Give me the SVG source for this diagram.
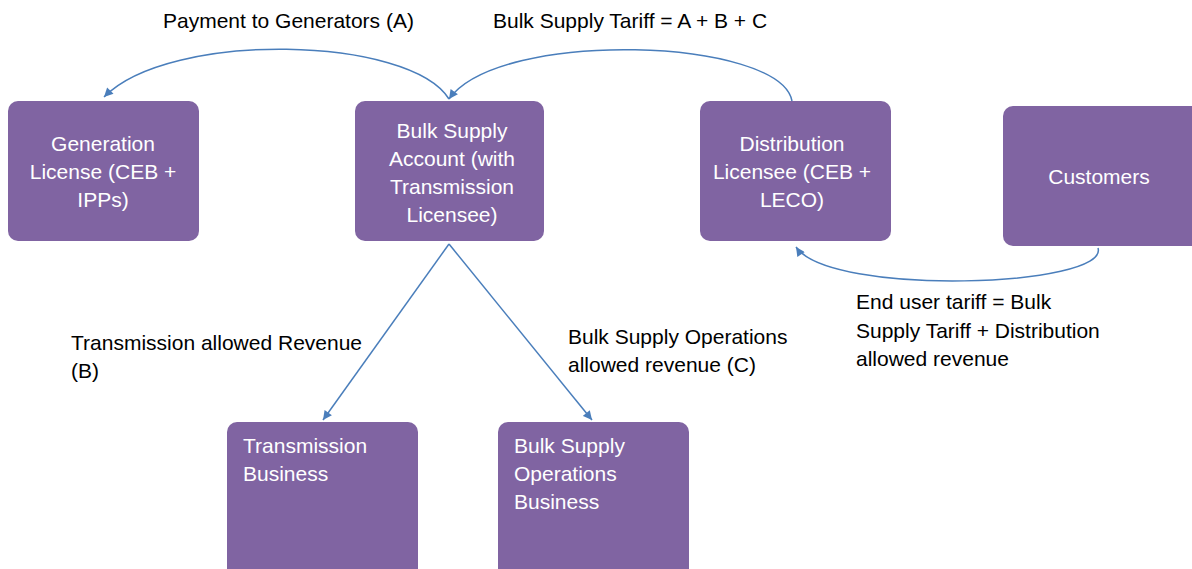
<svg xmlns="http://www.w3.org/2000/svg" width="1192" height="569" viewBox="0 0 1192 569">
<style>
.box{fill:#8064A2;}
.nt{font-family:"Liberation Sans",Arial,sans-serif;font-size:21px;fill:#ffffff;}
.c{text-anchor:middle;}
.lbl{font-family:"Liberation Sans",Arial,sans-serif;font-size:21px;fill:#000000;}
.con{fill:none;stroke:#4A7EBB;stroke-width:1.5;}
</style>
<defs>
<marker id="ah" viewBox="0 0 10 10" refX="10" refY="5" markerWidth="10" markerHeight="9" markerUnits="userSpaceOnUse" orient="auto">
<path d="M0,0 L10,5 L0,10 z" fill="#4A7EBB"/>
</marker>
</defs>
<rect width="1192" height="569" fill="#ffffff"/>
<g id="connectors">
<path class="con" d="M449,99 C410,36 170,30 104,97" marker-end="url(#ah)"/>
<path class="con" d="M792,101 C780,38 500,28 449,99" marker-end="url(#ah)"/>
<path class="con" d="M1098,248 C1110,287 830,297 796,247" marker-end="url(#ah)"/>
<path class="con" d="M449,244 L323,420" marker-end="url(#ah)"/>
<path class="con" d="M449,244 L592,420" marker-end="url(#ah)"/>
</g>
<g id="generation">
<rect class="box" x="8" y="101" width="191" height="140" rx="10"/>
<text class="nt c" x="103" y="151">Generation</text>
<text class="nt c" x="103" y="179">License (CEB +</text>
<text class="nt c" x="103" y="207">IPPs)</text>
</g>
<g id="bulk-supply-account">
<rect class="box" x="355" y="101" width="189" height="140" rx="10"/>
<text class="nt c" x="452" y="138">Bulk Supply</text>
<text class="nt c" x="452" y="166">Account (with</text>
<text class="nt c" x="452" y="194">Transmission</text>
<text class="nt c" x="452" y="222">Licensee)</text>
</g>
<g id="distribution">
<rect class="box" x="700" y="101" width="191" height="140" rx="10"/>
<text class="nt c" x="792" y="151">Distribution</text>
<text class="nt c" x="792" y="179">Licensee (CEB +</text>
<text class="nt c" x="792" y="207">LECO)</text>
</g>
<g id="customers">
<rect class="box" x="1003" y="106" width="199" height="140" rx="10"/>
<text class="nt c" x="1099" y="184">Customers</text>
</g>
<g id="transmission-business">
<rect class="box" x="227" y="422" width="191" height="160" rx="10"/>
<text class="nt" x="243" y="453">Transmission</text>
<text class="nt" x="243" y="481">Business</text>
</g>
<g id="bulk-supply-operations">
<rect class="box" x="498" y="422" width="191" height="160" rx="10"/>
<text class="nt" x="514" y="453">Bulk Supply</text>
<text class="nt" x="514" y="481">Operations</text>
<text class="nt" x="514" y="509">Business</text>
</g>
<g id="labels">
<text class="lbl" x="163" y="28">Payment to Generators (A)</text>
<text class="lbl" x="493" y="28">Bulk Supply Tariff = A + B + C</text>
<text class="lbl" x="71" y="350">Transmission allowed Revenue</text>
<text class="lbl" x="71" y="378">(B)</text>
<text class="lbl" x="568" y="344">Bulk Supply Operations</text>
<text class="lbl" x="568" y="372">allowed revenue (C)</text>
<text class="lbl" x="856" y="309">End user tariff = Bulk</text>
<text class="lbl" x="856" y="338">Supply Tariff + Distribution</text>
<text class="lbl" x="856" y="366">allowed revenue</text>
</g>
</svg>
